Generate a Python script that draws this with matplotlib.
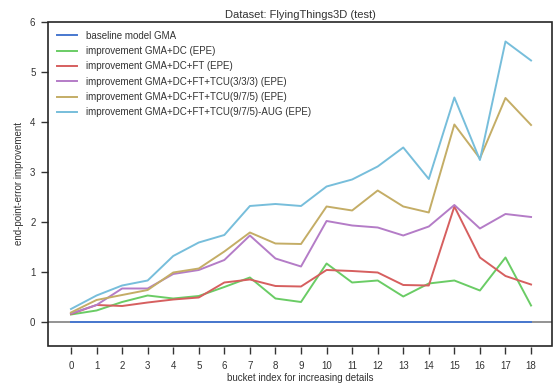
import numpy as np
import matplotlib
matplotlib.use("Agg")
import matplotlib.pyplot as plt
from matplotlib.patches import Rectangle

# =============================================================================
#  Data
# =============================================================================

buckets = list(range(19))

baseline = [0.0] * 19
gma_dc = [0.15, 0.23, 0.40, 0.53, 0.47, 0.52, 0.70, 0.89, 0.47, 0.40,
          1.17, 0.79, 0.83, 0.51, 0.77, 0.83, 0.63, 1.29, 0.33]
gma_dc_ft = [0.16, 0.34, 0.32, 0.39, 0.45, 0.49, 0.79, 0.85, 0.72, 0.71,
             1.04, 1.02, 0.99, 0.74, 0.73, 2.31, 1.29, 0.92, 0.75]
gma_tcu333 = [0.17, 0.34, 0.67, 0.67, 0.96, 1.04, 1.24, 1.73, 1.27, 1.11,
              2.02, 1.93, 1.89, 1.73, 1.91, 2.34, 1.87, 2.16, 2.10]
gma_tcu975 = [0.19, 0.44, 0.54, 0.64, 0.99, 1.07, 1.41, 1.79, 1.57, 1.56,
              2.31, 2.23, 2.63, 2.31, 2.19, 3.95, 3.27, 4.48, 3.94]
gma_tcu975_aug = [0.26, 0.53, 0.73, 0.83, 1.32, 1.59, 1.74, 2.32, 2.36, 2.32,
                  2.71, 2.85, 3.11, 3.49, 2.86, 4.49, 3.24, 5.61, 5.23]

labels = [
    "baseline model GMA",
    "improvement GMA+DC (EPE)",
    "improvement GMA+DC+FT (EPE)",
    "improvement GMA+DC+FT+TCU(3/3/3) (EPE)",
    "improvement GMA+DC+FT+TCU(9/7/5) (EPE)",
    "improvement GMA+DC+FT+TCU(9/7/5)-AUG (EPE)",
]

# old seaborn "muted" palette
colours = ["#4878CF", "#6ACC65", "#D65F5F", "#B47CC7", "#C4AD66", "#77BEDB"]

# =============================================================================
#  Plot
# =============================================================================

plt.rcParams["font.family"] = ["Liberation Sans", "DejaVu Sans"]
plt.rcParams["text.color"] = "#333333"
plt.rcParams["axes.labelcolor"] = "#333333"
plt.rcParams["xtick.color"] = "#333333"
plt.rcParams["ytick.color"] = "#333333"

fig = plt.figure(figsize=(5.56, 3.85), dpi=100)
ax = fig.add_axes([0.0863, 0.1013, 0.9065, 0.8416])

ax.axhline(0, color="#808080", lw=1.2, zorder=1)

series = [baseline, gma_dc, gma_dc_ft, gma_tcu333, gma_tcu975, gma_tcu975_aug]
for values, label, col in zip(series, labels, colours):
    ax.plot(buckets, values, color=col, lw=1.4, label=label, zorder=2)

ax.set_xlim(-0.9, 18.82)
ax.set_ylim(-0.48, 6)
ax.set_xticks(buckets)
ax.set_yticks(range(7))

# detached x ticks below the box
ax.spines["bottom"].set_position(("outward", 1))
ax.spines["bottom"].set_visible(False)
for side in ["top", "left", "right"]:
    ax.spines[side].set_visible(False)
ax.add_patch(Rectangle((0, 0), 1, 1, transform=ax.transAxes, fill=False,
                       edgecolor="#262626", lw=1.2, clip_on=False, zorder=3))

ax.tick_params(axis="both", direction="out", length=5, width=1,
               labelsize=7, pad=4)
ax.tick_params(axis="x", pad=5)

ax.set_title("Dataset: FlyingThings3D (test)", fontsize=8, pad=3)
ax.set_xlabel("bucket index for increasing details", fontsize=7, labelpad=1)
ax.set_ylabel("end-point-error improvement", fontsize=7, labelpad=4)

ax.legend(loc="upper left", frameon=False, fontsize=7, handlelength=2.1,
          handletextpad=0.9, labelspacing=0.55, borderaxespad=0.5)

fig.savefig("out.png", dpi=100)
